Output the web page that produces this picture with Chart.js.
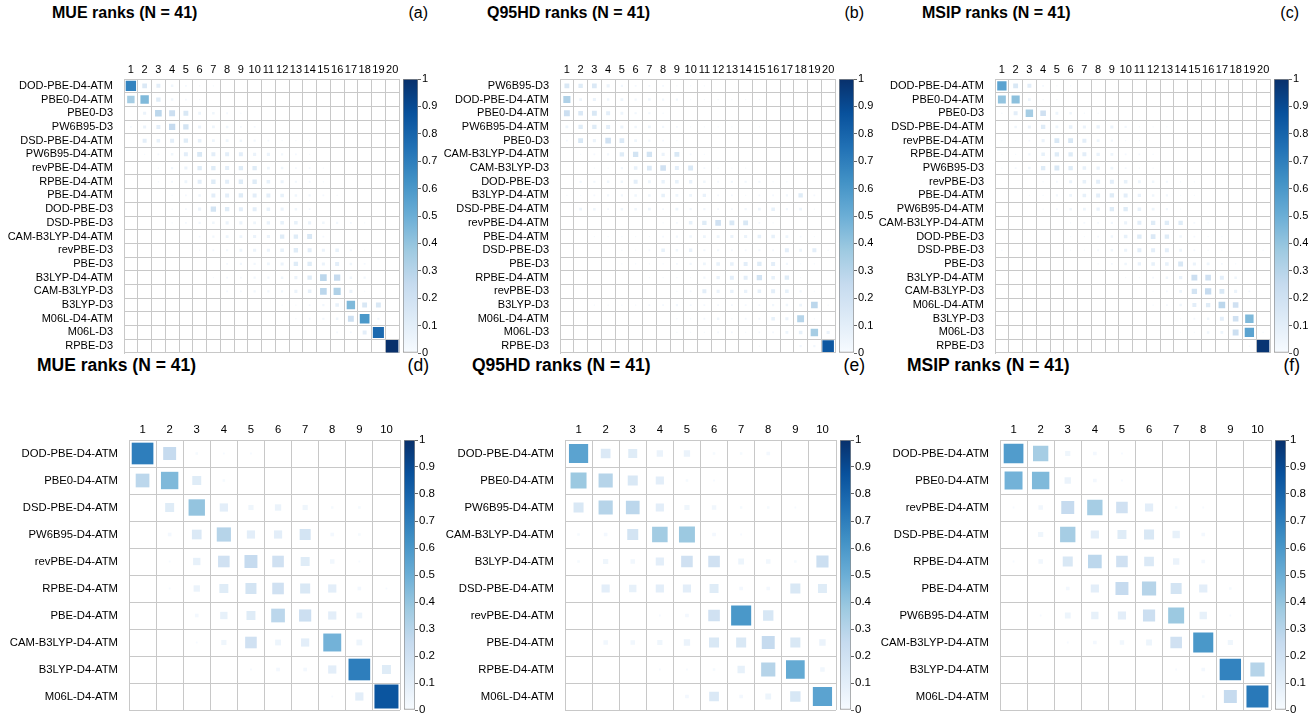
<!DOCTYPE html>
<html>
<head>
<meta charset="utf-8">
<script src="https://cdn.jsdelivr.net/npm/chart.js@4.4.1/dist/chart.umd.min.js"></script>
<style>
  body { margin: 0; background: #fff; width: 1309px; height: 715px; position: relative; overflow: hidden;
         font-family: "Liberation Sans", Arial, Helvetica, sans-serif; }
  canvas { position: absolute; }
  .t { position: absolute; white-space: nowrap; line-height: 1; color: #000; }
  .ttop { font-size: 16px; font-weight: bold; top: 5px; }
  .ltop { font-size: 16px; top: 5px; width: 40px; text-align: right; }
  .tbot { font-size: 17.5px; font-weight: bold; top: 357px; }
  .lbot { font-size: 17.5px; top: 357px; width: 40px; text-align: right; }
</style>
</head>
<body>
<div class="t ttop" style="left:52px">MUE ranks (N = 41)</div>
<div class="t ltop" style="left:388px">(a)</div>
<div class="t ttop" style="left:487px">Q95HD ranks (N = 41)</div>
<div class="t ltop" style="left:824px">(b)</div>
<div class="t ttop" style="left:922px">MSIP ranks (N = 41)</div>
<div class="t ltop" style="left:1259px">(c)</div>
<div class="t tbot" style="left:37px">MUE ranks (N = 41)</div>
<div class="t lbot" style="left:389px">(d)</div>
<div class="t tbot" style="left:472px">Q95HD ranks (N = 41)</div>
<div class="t lbot" style="left:825px">(e)</div>
<div class="t tbot" style="left:907px">MSIP ranks (N = 41)</div>
<div class="t lbot" style="left:1260px">(f)</div>

<canvas id="ma" width="401" height="298" style="left:0px;top:57px"></canvas>
<canvas id="mb" width="401" height="298" style="left:436px;top:57px"></canvas>
<canvas id="mc" width="401" height="298" style="left:871px;top:57px"></canvas>
<canvas id="ca" width="39" height="290" style="left:403px;top:71px"></canvas>
<canvas id="cb" width="39" height="290" style="left:839px;top:71px"></canvas>
<canvas id="cc" width="39" height="290" style="left:1274px;top:71px"></canvas>

<canvas id="md" width="402" height="294" style="left:0px;top:418px"></canvas>
<canvas id="me" width="402" height="294" style="left:436px;top:418px"></canvas>
<canvas id="mf" width="402" height="294" style="left:871px;top:418px"></canvas>
<canvas id="cd" width="37" height="286" style="left:404px;top:432px"></canvas>
<canvas id="ce" width="37" height="286" style="left:840px;top:432px"></canvas>
<canvas id="cf" width="37" height="286" style="left:1275px;top:432px"></canvas>

<script>
// rank labels
const ranks20 = ["1","2","3","4","5","6","7","8","9","10","11","12","13","14","15","16","17","18","19","20"];
const ranks10 = ["1","2","3","4","5","6","7","8","9","10"];

// (a) MUE, all 20 methods
const mueRows = ["DOD-PBE-D4-ATM","PBE0-D4-ATM","PBE0-D3","PW6B95-D3","DSD-PBE-D4-ATM","PW6B95-D4-ATM",
  "revPBE-D4-ATM","RPBE-D4-ATM","PBE-D4-ATM","DOD-PBE-D3","DSD-PBE-D3","CAM-B3LYP-D4-ATM","revPBE-D3",
  "PBE-D3","B3LYP-D4-ATM","CAM-B3LYP-D3","B3LYP-D3","M06L-D4-ATM","M06L-D3","RPBE-D3"];
const mueAll = [
  [0.68,0.14,0.10,0.04,0.02,0.01,0.01,0,0,0,0,0,0,0,0,0,0,0,0,0],
  [0.35,0.45,0.12,0.04,0.02,0.01,0,0,0,0,0,0,0,0,0,0,0,0,0,0],
  [0,0.06,0.28,0.22,0.15,0.05,0.04,0.02,0.01,0,0,0,0,0,0,0,0,0,0,0],
  [0.02,0.06,0.10,0.25,0.18,0.06,0.05,0.04,0.02,0.02,0,0,0,0,0,0,0,0,0,0],
  [0,0.10,0.08,0.10,0.12,0.08,0.05,0.05,0.04,0.03,0.02,0.01,0.01,0.01,0,0,0,0,0,0],
  [0,0.01,0.02,0.04,0.10,0.15,0.10,0.10,0.10,0.06,0.06,0.03,0.02,0.01,0,0,0,0,0,0],
  [0,0,0.01,0.03,0.06,0.12,0.12,0.10,0.12,0.12,0.05,0.04,0.02,0.02,0.01,0,0,0,0,0],
  [0,0,0.01,0.02,0.05,0.10,0.12,0.10,0.12,0.12,0.08,0.06,0.03,0.02,0.01,0,0,0,0,0],
  [0,0,0,0.01,0.02,0.04,0.10,0.10,0.12,0.10,0.10,0.08,0.04,0.03,0.02,0.01,0,0,0,0],
  [0,0,0,0.01,0.02,0.06,0.18,0.12,0.10,0.10,0.08,0.06,0.04,0.02,0,0,0,0,0,0],
  [0,0,0,0.01,0.02,0.03,0.04,0.06,0.06,0.05,0.07,0.08,0.08,0.06,0.04,0.03,0.02,0.01,0,0],
  [0,0,0,0,0,0.02,0.03,0.05,0.05,0.06,0.06,0.12,0.12,0.15,0.02,0,0,0,0,0],
  [0,0,0,0,0,0.01,0.02,0.03,0.05,0.06,0.06,0.08,0.12,0.10,0.06,0.08,0.03,0.01,0,0],
  [0,0,0,0,0,0,0,0.02,0.03,0.03,0.05,0.06,0.12,0.12,0.06,0.10,0.04,0.02,0,0],
  [0,0,0,0,0,0,0.01,0.02,0.02,0.03,0.03,0.04,0.06,0.12,0.28,0.25,0.04,0.03,0,0],
  [0,0,0,0,0,0,0,0.02,0.02,0.03,0.03,0.03,0.06,0.08,0.28,0.32,0.06,0.01,0,0],
  [0,0,0,0,0,0,0,0,0,0,0,0.01,0.01,0.02,0.03,0.08,0.45,0.15,0.15,0],
  [0,0,0,0,0,0,0,0,0,0,0,0,0.01,0.02,0.03,0.04,0.22,0.60,0.03,0],
  [0,0,0,0,0,0,0,0,0,0,0,0,0,0,0,0.02,0.02,0.10,0.78,0],
  [0,0,0,0,0,0,0,0,0,0,0,0,0,0,0,0,0,0,0,1.00]
];

// (b) Q95HD, all 20 methods
const q95Rows = ["PW6B95-D3","DOD-PBE-D4-ATM","PBE0-D4-ATM","PW6B95-D4-ATM","PBE0-D3","CAM-B3LYP-D4-ATM",
  "CAM-B3LYP-D3","DOD-PBE-D3","B3LYP-D4-ATM","DSD-PBE-D4-ATM","revPBE-D4-ATM","PBE-D4-ATM","DSD-PBE-D3",
  "PBE-D3","RPBE-D4-ATM","revPBE-D3","B3LYP-D3","M06L-D4-ATM","M06L-D3","RPBE-D3"];
const q95All = [
  [0.15,0.12,0.14,0.06,0.03,0.02,0.02,0.02,0.01,0.01,0.01,0,0,0,0,0,0,0,0,0],
  [0.32,0.05,0.06,0.04,0.05,0.03,0.04,0.03,0.03,0.01,0.01,0.01,0.01,0.01,0.01,0,0,0,0,0],
  [0.22,0.14,0.15,0.10,0.05,0.03,0.03,0.01,0,0,0,0,0,0,0,0,0,0,0,0],
  [0.05,0.12,0.12,0.10,0.06,0.04,0.05,0.03,0.02,0.01,0.01,0.01,0.01,0,0.01,0,0,0,0,0],
  [0.02,0.15,0.06,0.20,0.14,0.05,0.03,0.02,0.01,0,0,0,0,0,0,0,0,0,0,0],
  [0,0.01,0.02,0.03,0.12,0.18,0.18,0.06,0.15,0.02,0.01,0,0,0,0,0,0,0,0,0],
  [0,0,0.01,0.01,0.03,0.08,0.14,0.20,0.10,0.15,0.02,0.01,0.01,0.01,0,0,0,0,0,0],
  [0,0.03,0.03,0.04,0.04,0.10,0.05,0.07,0.08,0.07,0.04,0.02,0.03,0.03,0.03,0.01,0.01,0,0,0],
  [0.01,0.01,0.02,0.03,0.03,0.04,0.04,0.08,0.05,0.05,0.07,0.02,0.02,0.01,0.02,0.02,0.03,0.12,0.02,0],
  [0,0.05,0.04,0.02,0.04,0.04,0.05,0.02,0.05,0.03,0.03,0.02,0.02,0.03,0.05,0.08,0.03,0.05,0.01,0],
  [0,0,0,0,0,0,0,0.01,0.02,0.08,0.12,0.20,0.15,0.15,0.02,0.01,0,0,0,0],
  [0,0,0.01,0.01,0.01,0.01,0.01,0.02,0.03,0.04,0.05,0.05,0.06,0.06,0.08,0.08,0.05,0.02,0.01,0],
  [0,0,0,0,0.01,0.01,0.02,0.08,0.04,0.07,0.03,0.03,0.02,0.02,0.03,0.02,0.10,0.05,0.10,0.01],
  [0,0,0,0,0.01,0.01,0.01,0.01,0.02,0.03,0.05,0.08,0.08,0.10,0.12,0.10,0.03,0.01,0.01,0],
  [0,0,0,0,0,0,0.01,0.01,0.01,0.01,0.03,0.07,0.10,0.10,0.18,0.08,0.12,0.01,0,0],
  [0,0,0,0,0,0,0,0,0.01,0.02,0.10,0.06,0.07,0.07,0.08,0.10,0.08,0.03,0.01,0],
  [0,0,0.01,0.01,0.01,0.01,0.02,0.02,0.03,0.02,0.02,0.02,0.02,0.02,0.02,0.03,0.04,0.05,0.28,0.01],
  [0,0,0,0,0,0,0,0,0.01,0.01,0.02,0.04,0.01,0.02,0.02,0.08,0.06,0.30,0.01,0],
  [0,0,0,0,0,0,0,0,0.01,0.01,0.01,0.02,0.02,0.01,0.02,0.02,0.05,0.08,0.35,0.06],
  [0,0,0,0,0,0,0,0,0,0,0,0,0,0,0.01,0,0,0.03,0.03,0.85]
];

// (c) MSIP, all 20 methods
const msipRows = ["DOD-PBE-D4-ATM","PBE0-D4-ATM","PBE0-D3","DSD-PBE-D4-ATM","revPBE-D4-ATM","RPBE-D4-ATM",
  "PW6B95-D3","revPBE-D3","PBE-D4-ATM","PW6B95-D4-ATM","CAM-B3LYP-D4-ATM","DOD-PBE-D3","DSD-PBE-D3",
  "PBE-D3","B3LYP-D4-ATM","CAM-B3LYP-D3","M06L-D4-ATM","B3LYP-D3","M06L-D3","RPBE-D3"];
const msipAll = [
  [0.55,0.15,0.10,0.02,0.01,0.01,0,0,0,0,0,0,0,0,0,0,0,0,0,0],
  [0.40,0.42,0.05,0.01,0.01,0,0,0,0,0,0,0,0,0,0,0,0,0,0,0],
  [0.01,0.10,0.35,0.20,0.05,0.04,0.01,0.01,0,0,0,0,0,0,0,0,0,0,0,0],
  [0,0.04,0.06,0.12,0.05,0.08,0.06,0.07,0.06,0.03,0.01,0.01,0.01,0,0,0,0,0,0,0],
  [0.01,0.01,0.02,0.06,0.15,0.15,0.10,0.05,0.03,0.01,0.01,0,0,0,0,0,0,0,0,0],
  [0.01,0.01,0.03,0.08,0.12,0.12,0.10,0.07,0.05,0.02,0.02,0.01,0,0,0,0,0,0,0,0],
  [0.01,0.02,0.04,0.12,0.15,0.12,0.08,0.07,0.05,0.02,0.01,0.01,0,0,0,0,0,0,0,0],
  [0,0,0,0.01,0.02,0.06,0.08,0.10,0.10,0.08,0.05,0.04,0.03,0.01,0.01,0,0,0,0,0],
  [0,0,0.01,0.01,0.03,0.05,0.08,0.10,0.12,0.10,0.07,0.04,0.03,0.01,0.01,0,0,0,0,0],
  [0,0,0,0.01,0.02,0.04,0.05,0.07,0.12,0.12,0.08,0.05,0.03,0.01,0,0,0,0,0,0],
  [0,0,0,0,0,0.01,0.02,0.02,0.03,0.06,0.10,0.12,0.12,0.12,0.02,0.01,0,0,0,0],
  [0,0,0,0,0,0.01,0.01,0.02,0.04,0.08,0.12,0.14,0.12,0.04,0.02,0.01,0.01,0,0,0],
  [0.01,0,0,0,0,0.01,0.01,0.02,0.04,0.06,0.10,0.10,0.10,0.05,0.02,0.01,0.01,0,0,0.01],
  [0,0,0,0,0,0,0,0.01,0.02,0.04,0.07,0.08,0.08,0.15,0.06,0.05,0.02,0.01,0,0],
  [0,0,0,0,0,0,0,0,0,0.01,0.01,0.02,0.04,0.07,0.22,0.20,0.10,0.04,0,0],
  [0,0,0,0,0,0,0,0,0,0,0,0.01,0.02,0.05,0.18,0.25,0.15,0.06,0.02,0],
  [0,0,0,0,0,0,0,0,0,0,0,0.01,0.02,0.04,0.10,0.12,0.28,0.20,0,0],
  [0,0,0,0,0,0,0,0,0,0,0,0,0,0.01,0.02,0.04,0.10,0.20,0.45,0],
  [0,0,0,0,0,0,0,0,0,0,0,0,0,0.01,0.01,0.04,0.05,0.22,0.55,0.01],
  [0,0,0,0,0,0,0,0,0,0,0,0,0,0,0,0,0,0,0.01,0.98]
];

// (d) MUE, D4-ATM methods only
const mueD4Rows = ["DOD-PBE-D4-ATM","PBE0-D4-ATM","DSD-PBE-D4-ATM","PW6B95-D4-ATM","revPBE-D4-ATM",
  "RPBE-D4-ATM","PBE-D4-ATM","CAM-B3LYP-D4-ATM","B3LYP-D4-ATM","M06L-D4-ATM"];
const mueD4 = [
  [0.70,0.25,0.01,0.005,0.005,0,0,0,0,0],
  [0.28,0.45,0.12,0.01,0,0,0,0,0,0],
  [0,0.12,0.40,0.10,0.04,0.06,0.04,0.01,0.01,0],
  [0,0.02,0.14,0.30,0.10,0.10,0.18,0.02,0.01,0],
  [0,0.005,0.08,0.20,0.25,0.20,0.12,0.03,0.005,0],
  [0,0.005,0.06,0.12,0.18,0.20,0.15,0.10,0.02,0.005],
  [0,0,0.02,0.08,0.12,0.28,0.22,0.10,0.05,0],
  [0,0,0.005,0.04,0.20,0.05,0.10,0.48,0.05,0],
  [0,0,0,0,0.005,0.02,0.02,0.10,0.70,0.12],
  [0,0,0,0,0,0,0,0.005,0.10,0.86]
];

// (e) Q95HD, D4-ATM methods only
const q95D4Rows = ["DOD-PBE-D4-ATM","PBE0-D4-ATM","PW6B95-D4-ATM","CAM-B3LYP-D4-ATM","B3LYP-D4-ATM",
  "DSD-PBE-D4-ATM","revPBE-D4-ATM","PBE-D4-ATM","RPBE-D4-ATM","M06L-D4-ATM"];
const q95D4 = [
  [0.55,0.14,0.12,0.06,0.06,0.01,0.01,0.02,0,0],
  [0.38,0.30,0.15,0.10,0.01,0.005,0,0,0,0],
  [0.15,0.30,0.28,0.10,0.04,0.03,0.01,0.01,0.005,0],
  [0.01,0.02,0.18,0.36,0.38,0.02,0.005,0,0,0],
  [0.01,0.04,0.03,0.10,0.20,0.20,0.05,0.03,0.01,0.22],
  [0,0.10,0.08,0.10,0.10,0.12,0.02,0.02,0.15,0.12],
  [0,0,0,0.005,0.02,0.20,0.60,0.16,0,0],
  [0,0.03,0.03,0.04,0.06,0.15,0.15,0.25,0.15,0.06],
  [0,0,0,0.005,0.005,0.01,0.08,0.30,0.52,0.03],
  [0,0,0,0,0.02,0.14,0.02,0.05,0.16,0.55]
];

// (f) MSIP, D4-ATM methods only
const msipD4Rows = ["DOD-PBE-D4-ATM","PBE0-D4-ATM","revPBE-D4-ATM","DSD-PBE-D4-ATM","RPBE-D4-ATM",
  "PBE-D4-ATM","PW6B95-D4-ATM","CAM-B3LYP-D4-ATM","B3LYP-D4-ATM","M06L-D4-ATM"];
const msipD4 = [
  [0.58,0.35,0.04,0.02,0.005,0,0,0,0,0],
  [0.48,0.45,0.06,0.02,0.005,0,0,0,0,0],
  [0.005,0.03,0.25,0.35,0.20,0.10,0.01,0.005,0,0],
  [0,0.04,0.35,0.10,0.12,0.15,0.08,0.02,0,0],
  [0.005,0.03,0.15,0.28,0.20,0.14,0.06,0.02,0,0],
  [0,0,0.02,0.10,0.25,0.30,0.18,0.10,0.01,0],
  [0,0.005,0.05,0.08,0.10,0.22,0.38,0.08,0.005,0],
  [0,0,0.005,0.02,0.03,0.05,0.20,0.60,0.04,0],
  [0,0,0,0,0,0,0.005,0.02,0.68,0.30],
  [0,0,0,0,0,0,0,0.01,0.25,0.72]
];

// colour ramp (Blues), 0 -> 1
const bluesStops = ["#F7FBFF","#DEEBF7","#C6DBEF","#9ECAE1","#6BAED6","#4292C6","#2171B5","#08519C","#08306B"];

Chart.defaults.font.family = '"Liberation Sans", Arial, Helvetica, sans-serif';
Chart.defaults.color = "#000";

function hexRgb(h) {
  return [parseInt(h.slice(1, 3), 16), parseInt(h.slice(3, 5), 16), parseInt(h.slice(5, 7), 16)];
}
function blues(v) {
  const t = Math.max(0, Math.min(1, v)) * (bluesStops.length - 1);
  const i = Math.min(Math.floor(t), bluesStops.length - 2);
  const f = t - i;
  const a = hexRgb(bluesStops[i]), b = hexRgb(bluesStops[i + 1]);
  const c = a.map((x, k) => Math.round(x + (b[k] - x) * f));
  return "rgb(" + c.join(",") + ")";
}

function cells(vals, rows, cols) {
  const pts = [];
  vals.forEach((r, i) => r.forEach((v, j) => {
    if (v > 0) pts.push({ x: cols[j], y: rows[i], v: v });
  }));
  return pts;
}

const gridColor = "#c8c8c8";

// label padding would otherwise eat into the plot area at the ends
function noEndPadding(s) {
  s.paddingTop = 0; s.paddingBottom = 0; s.paddingLeft = 0; s.paddingRight = 0;
}

function matrixChart(id, rows, cols, vals, opt) {
  const n = cols.length;
  const rad = (c) => {
    if (!c.raw) return 0;
    const cell = c.chart.scales.x.width / n;
    return Math.sqrt(c.raw.v) * (cell - 1.2) / Math.SQRT2;
  };
  return new Chart(document.getElementById(id), {
    type: "scatter",
    data: {
      datasets: [{
        data: cells(vals, rows, cols),
        pointStyle: "rect",
        pointRadius: rad,
        pointHoverRadius: rad,
        pointBackgroundColor: (c) => c.raw ? blues(c.raw.v) : "#fff",
        pointBorderWidth: 0,
      }],
    },
    options: {
      responsive: false,
      animation: false,
      events: [],
      layout: { autoPadding: false, padding: { left: 0, top: 0, right: 2, bottom: 2 } },
      plugins: { legend: { display: false }, tooltip: { enabled: false } },
      scales: {
        x: {
          type: "category",
          labels: cols,
          position: "top",
          offset: true,
          grid: { offset: true, color: gridColor, drawTicks: false },
          border: { color: gridColor },
          ticks: { autoSkip: false, minRotation: 0, maxRotation: 0, padding: opt.xPad, font: { size: opt.font } },
          afterFit: (s) => { s.height = opt.topH; noEndPadding(s); },
        },
        y: {
          type: "category",
          labels: rows,
          offset: true,
          grid: { offset: true, color: gridColor, drawTicks: false },
          border: { color: gridColor },
          ticks: { autoSkip: false, padding: 11, font: { size: opt.font } },
          afterFit: (s) => { s.width = opt.leftW; noEndPadding(s); },
        },
      },
    },
  });
}

function colorbar(id, font, axisW) {
  return new Chart(document.getElementById(id), {
    type: "bar",
    data: {
      labels: [""],
      datasets: [{
        data: [1],
        backgroundColor: (c) => {
          const a = c.chart.chartArea;
          if (!a) return "#fff";
          const g = c.chart.ctx.createLinearGradient(0, a.bottom, 0, a.top);
          bluesStops.forEach((s, i) => g.addColorStop(i / (bluesStops.length - 1), s));
          return g;
        },
        borderColor: "#8c8c8c",
        borderWidth: 1,
        borderSkipped: false,
        barPercentage: 1,
        categoryPercentage: 1,
      }],
    },
    options: {
      responsive: false,
      animation: false,
      events: [],
      layout: { autoPadding: false, padding: { left: 0, right: 0, top: 8, bottom: 8 } },
      plugins: { legend: { display: false }, tooltip: { enabled: false } },
      scales: {
        x: { display: false },
        y: {
          position: "right",
          min: 0,
          max: 1,
          grid: { drawOnChartArea: false, tickLength: 3, color: "#666" },
          border: { display: false },
          ticks: { stepSize: 0.1, padding: 1, font: { size: font },
                   callback: (v) => String(+Number(v).toFixed(1)) },
          afterFit: (s) => { s.width = axisW; noEndPadding(s); },
        },
      },
    },
  });
}

const topOpt = { font: 11, xPad: 2, topH: 22, leftW: 124 };
const botOpt = { font: 11.3, xPad: 3, topH: 22, leftW: 129 };

matrixChart("ma", mueRows, ranks20, mueAll, topOpt);
matrixChart("mb", q95Rows, ranks20, q95All, topOpt);
matrixChart("mc", msipRows, ranks20, msipAll, topOpt);
matrixChart("md", mueD4Rows, ranks10, mueD4, botOpt);
matrixChart("me", q95D4Rows, ranks10, q95D4, botOpt);
matrixChart("mf", msipD4Rows, ranks10, msipD4, botOpt);

["ca", "cb", "cc"].forEach((id) => colorbar(id, 11, 24));
["cd", "ce", "cf"].forEach((id) => colorbar(id, 11.5, 26));
</script>
</body>
</html>
